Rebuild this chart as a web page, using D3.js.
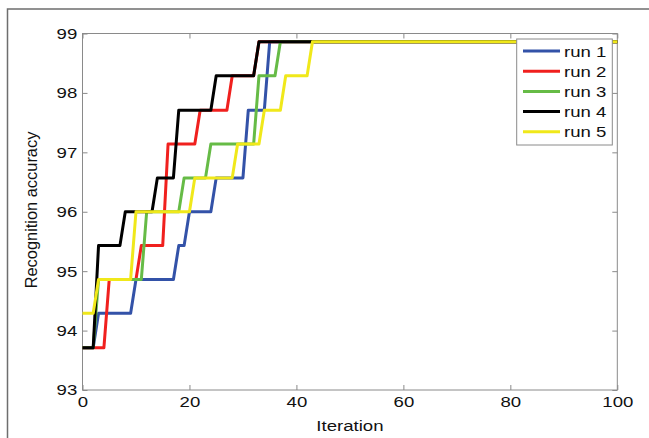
<!DOCTYPE html>
<html>
<head>
<meta charset="utf-8">
<script src="https://cdn.jsdelivr.net/npm/d3@7"></script>
<style>
  body { margin: 0; background: #fff; }
  text { font-family: "Liberation Sans", Arial, Helvetica, sans-serif; fill: #111; }
</style>
</head>
<body>
<svg id="chart"></svg>
<script>
// accuracy levels are k/175 of the test set; each run is stored as the corners of its step line
const runNames = ["run 1", "run 2", "run 3", "run 4", "run 5"];
const runColors = ["#3352a8", "#f0201e", "#66bb46", "#000000", "#f0e81a"];

const run1Iter = [0, 2, 3, 9, 10, 17, 18, 19, 20, 24, 25, 30, 31, 34, 35, 100];
const run1Acc  = [93.71, 93.71, 94.29, 94.29, 94.86, 94.86, 95.43, 95.43, 96.00, 96.00, 96.57, 96.57, 97.71, 97.71, 98.86, 98.86];

const run2Iter = [0, 4, 5, 10, 11, 15, 16, 21, 22, 27, 28, 32, 33, 100];
const run2Acc  = [93.71, 93.71, 94.86, 94.86, 95.43, 95.43, 97.14, 97.14, 97.71, 97.71, 98.29, 98.29, 98.86, 98.86];

const run3Iter = [0, 2, 3, 11, 12, 18, 19, 23, 24, 32, 33, 36, 37, 100];
const run3Acc  = [93.71, 93.71, 94.86, 94.86, 96.00, 96.00, 96.57, 96.57, 97.14, 97.14, 98.29, 98.29, 98.86, 98.86];

const run4Iter = [0, 2, 3, 7, 8, 13, 14, 17, 18, 24, 25, 32, 33, 100];
const run4Acc  = [93.71, 93.71, 95.43, 95.43, 96.00, 96.00, 96.57, 96.57, 97.71, 97.71, 98.29, 98.29, 98.86, 98.86];

const run5Iter = [0, 2, 3, 9, 10, 20, 21, 28, 29, 33, 34, 37, 38, 42, 43, 100];
const run5Acc  = [94.29, 94.29, 94.86, 94.86, 96.00, 96.00, 96.57, 96.57, 97.14, 97.14, 97.71, 97.71, 98.29, 98.29, 98.86, 98.86];

const xTicks = [0, 20, 40, 60, 80, 100];
const yTicks = [93, 94, 95, 96, 97, 98, 99];

const runs = [
  [run1Iter, run1Acc],
  [run2Iter, run2Acc],
  [run3Iter, run3Acc],
  [run4Iter, run4Acc],
  [run5Iter, run5Acc]
].map(([it, acc], i) => ({
  name: runNames[i],
  color: runColors[i],
  points: it.map((x, j) => ({x: x, y: acc[j]}))
}));

const width = 649;
const height = 438;
const plot = {left: 82.5, right: 617.3, top: 33.5, bottom: 390};
const stretch = 1.2; // labels in the picture are a bit wide

const svg = d3.select("#chart")
  .attr("width", width)
  .attr("height", height);

// outer figure frame, only left and top edges show
svg.append("rect")
  .attr("x", 7.5).attr("y", 9)
  .attr("width", 800).attr("height", 600)
  .attr("fill", "none")
  .attr("stroke", "#6e6e6e")
  .attr("stroke-width", 1.5);

const x = d3.scaleLinear().domain([0, 100]).range([plot.left, plot.right]);
const y = d3.scaleLinear().domain([93, 99]).range([plot.bottom, plot.top]);

// axes box
svg.append("rect")
  .attr("x", plot.left).attr("y", plot.top)
  .attr("width", plot.right - plot.left)
  .attr("height", plot.bottom - plot.top)
  .attr("fill", "#fff")
  .attr("stroke", "#8a8a8a")
  .attr("stroke-width", 1);

function styleAxis(g) {
  g.select(".domain").remove();
  g.selectAll(".tick line").attr("stroke", "#8a8a8a");
}

svg.append("g")
  .attr("transform", `translate(0,${plot.bottom})`)
  .call(d3.axisBottom(x).tickValues(xTicks).tickFormat(d3.format("d")).tickSize(-5).tickPadding(6.5))
  .call(styleAxis)
  .call(g => g.selectAll(".tick text")
    .attr("font-size", 15.5)
    .attr("fill", "#111")
    .attr("transform", `scale(${stretch},1)`));

svg.append("g")
  .attr("transform", `translate(${plot.left},0)`)
  .call(d3.axisLeft(y).tickValues(yTicks).tickFormat(d3.format("d")).tickSize(-5))
  .call(styleAxis)
  .call(g => g.selectAll(".tick text")
    .attr("x", -4.4)
    .attr("font-size", 15.5)
    .attr("fill", "#111")
    .attr("transform", `scale(${stretch},1)`));

svg.append("g")
  .attr("transform", `translate(0,${plot.top})`)
  .call(d3.axisTop(x).tickValues(xTicks).tickSize(-5).tickFormat(""))
  .call(styleAxis);

svg.append("g")
  .attr("transform", `translate(${plot.right},0)`)
  .call(d3.axisRight(y).tickValues(yTicks).tickSize(-5).tickFormat(""))
  .call(styleAxis);

// the runs
const line = d3.line().x(d => x(d.x)).y(d => y(d.y));

svg.append("g")
  .selectAll("path")
  .data(runs)
  .join("path")
  .attr("d", d => line(d.points))
  .attr("fill", "none")
  .attr("stroke", d => d.color)
  .attr("stroke-width", 3)
  .attr("stroke-linejoin", "round");

// axis titles
svg.append("text")
  .attr("transform", `translate(${(plot.left + plot.right) / 2},430.5) scale(${stretch},1)`)
  .attr("text-anchor", "middle")
  .attr("font-size", 15.5)
  .text("Iteration");

svg.append("text")
  .attr("transform", `translate(37,210) rotate(-90)`)
  .attr("text-anchor", "middle")
  .attr("font-size", 16.4)
  .text("Recognition accuracy");

// legend
const legend = svg.append("g");
legend.append("rect")
  .attr("x", 516.7).attr("y", 39)
  .attr("width", 95.6).attr("height", 106)
  .attr("fill", "#fff")
  .attr("stroke", "#8a8a8a")
  .attr("stroke-width", 1);

const rows = legend.selectAll("g.row")
  .data(runs)
  .join("g")
  .attr("class", "row")
  .attr("transform", (d, i) => `translate(0,${51 + i * 20.2})`);

rows.append("line")
  .attr("x1", 523).attr("x2", 560)
  .attr("stroke", d => d.color)
  .attr("stroke-width", 3);

rows.append("text")
  .attr("transform", `translate(564,5.6) scale(${stretch},1)`)
  .attr("font-size", 15.5)
  .text(d => d.name);
</script>
</body>
</html>
